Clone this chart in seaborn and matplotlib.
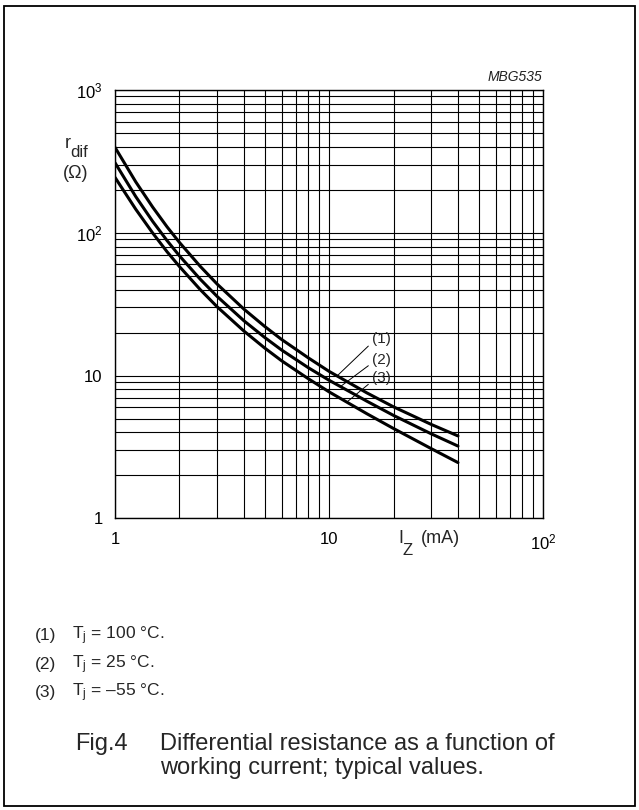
import matplotlib
matplotlib.use("Agg")

import matplotlib.pyplot as plt
import numpy as np
import pandas as pd
import seaborn as sns
from matplotlib.patches import Rectangle
from matplotlib.ticker import FixedFormatter, FixedLocator, LogLocator, NullFormatter


# ── Data (Fig.4) ──────────────────────────────────────────────────────────────

i_z = [1, 1.25, 1.5, 1.75, 2, 2.5, 3, 4, 5, 6, 8, 10, 15, 20, 30, 40]   # mA

r_dif_100 = [396, 227, 151, 110, 85.5, 58.2, 43.7, 29.2, 22.1, 17.9, 13.3, 10.7, 7.57, 6.04, 4.55, 3.78]
r_dif_25  = [309, 179, 120, 88.1, 68.9, 47.3, 35.8, 24.2, 18.5, 15.1, 11.35, 9.27, 6.62, 5.26, 3.91, 3.21]
r_dif_m55 = [244, 146, 99.5, 73.6, 58.0, 40.0, 30.3, 20.5, 15.6, 12.7, 9.5, 7.69, 5.41, 4.26, 3.08, 2.46]

curve_ids   = ["(1)", "(2)", "(3)"]
note_labels = [r"T$_{\rm j}$ = 100 °C.", r"T$_{\rm j}$ = 25 °C.", r"T$_{\rm j}$ = –55 °C."]

x_ticks  = [1, 10, 100]
x_labels = ["1", "10", r"10$^{2}$"]
y_ticks  = [1, 10, 100, 1000]
y_labels = ["1", "10", r"10$^{2}$", r"10$^{3}$"]

df = pd.concat([
    pd.DataFrame({"iz": i_z, "r": r, "curve": cid})
    for cid, r in zip(curve_ids, [r_dif_100, r_dif_25, r_dif_m55])
])


# ── Style ─────────────────────────────────────────────────────────────────────

sns.set_style("white")
plt.rcParams["font.family"] = ["Liberation Sans", "DejaVu Sans"]
plt.rcParams["mathtext.fontset"] = "custom"
plt.rcParams["mathtext.rm"] = "Liberation Sans"
plt.rcParams["mathtext.it"] = "Liberation Sans:italic"
plt.rcParams["mathtext.default"] = "regular"

fig = plt.figure(figsize=(6.39, 8.10), dpi=100)
ax = fig.add_axes([0.180, 0.360, 0.670, 0.529])

sns.lineplot(data=df, x="iz", y="r", hue="curve", palette=["black"] * 3,
             estimator=None, lw=2.2, legend=False, ax=ax)

ax.set_xscale("log")
ax.set_yscale("log")
ax.set_xlim(1, 100)
ax.set_ylim(1, 1000)

ax.xaxis.set_major_locator(FixedLocator(x_ticks))
ax.xaxis.set_major_formatter(FixedFormatter(x_labels))
ax.yaxis.set_major_locator(FixedLocator(y_ticks))
ax.yaxis.set_major_formatter(FixedFormatter(y_labels))
ax.xaxis.set_minor_locator(LogLocator(base=10, subs=np.arange(2, 10)))
ax.yaxis.set_minor_locator(LogLocator(base=10, subs=np.arange(2, 10)))
ax.xaxis.set_minor_formatter(NullFormatter())
ax.yaxis.set_minor_formatter(NullFormatter())

ax.grid(which="both", color="black", lw=0.8)
ax.tick_params(which="both", length=0, labelsize=12, colors="black")
ax.tick_params(axis="x", pad=10)
ax.tick_params(axis="y", pad=9)
for s in ax.spines.values():
    s.set_color("black")
    s.set_linewidth(1.0)
ax.set_xlabel("")
ax.set_ylabel("")

# curve labels with leader lines
log_x = np.log10(i_z)
anchors = [(10.9, r_dif_100, 17.9), (11.3, r_dif_25, 12.9), (12.1, r_dif_m55, 9.6)]
for cid, (xa, r, ytxt) in zip(curve_ids, anchors):
    ya = 10 ** np.interp(np.log10(xa), log_x, np.log10(r))
    ax.annotate(cid, xy=(xa, ya), xytext=(15.8, ytxt), fontsize=11,
                ha="left", va="center",
                arrowprops=dict(arrowstyle="-", lw=0.7, color="black",
                                relpos=(0, 0.25), shrinkA=0, shrinkB=0))

# axis titles with datasheet-sized subscripts
fig.text(0.102, 0.8173, "r", fontsize=13, ha="left", va="baseline")
fig.text(0.1095, 0.8062, "dif", fontsize=12, ha="left", va="baseline")
fig.text(0.099, 0.7864, "(Ω)", fontsize=13, ha="left", va="center")

fig.text(0.623, 0.3293, "I", fontsize=13, ha="left", va="baseline")
fig.text(0.6305, 0.3148, "Z", fontsize=12, ha="left", va="baseline")
fig.text(0.659, 0.3293, "(mA)", fontsize=13, ha="left", va="baseline")

fig.text(0.848, 0.905, "MBG535", fontsize=10, style="italic", color="#222222",
         ha="right", va="center")

# notes and caption
for i, (cid, txt) in enumerate(zip(curve_ids, note_labels)):
    y = 0.215 - i * 0.0352
    fig.text(0.055, y, cid, fontsize=12.5, ha="left", va="center")
    fig.text(0.113, y, txt, fontsize=12.5, ha="left", va="center")

fig.text(0.117, 0.0815, "Fig.4", fontsize=17, ha="left", va="center")
fig.text(0.250, 0.0815, "Differential resistance as a function of",
         fontsize=17, ha="left", va="center")
fig.text(0.250, 0.052, "working current; typical values.",
         fontsize=17, ha="left", va="center")

# outer frame
fig.add_artist(Rectangle((4 / 639, 1 - 806 / 810), 631 / 639, 800 / 810,
                         transform=fig.transFigure, fill=False, lw=1.3, ec="black"))

fig.savefig("out.png", dpi=100)
